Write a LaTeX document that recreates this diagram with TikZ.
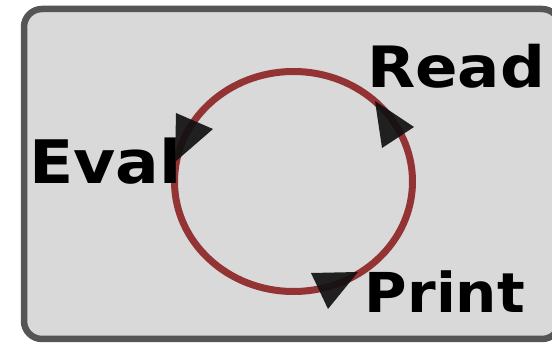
\documentclass[tikz,border=0pt]{standalone}
\usepackage{fontspec}
\setmainfont{DejaVu Sans}
\definecolor{panelfill}{HTML}{D9D9D9}
\definecolor{panelline}{HTML}{555555}
\definecolor{loopred}{HTML}{933333}
\definecolor{tipblack}{HTML}{111111}
\newcommand{\widelabel}[3]{\scalebox{#2}[1]{\fontsize{#1}{#1}\selectfont\bfseries #3}}
\begin{document}
\begin{tikzpicture}[x=1pt,y=-1pt,
  label/.style={anchor=base west,inner sep=0pt,text=black},
  tip/.style={fill=tipblack,fill opacity=0.92,draw=none}]
\clip (0,0) rectangle (552,344);
\useasboundingbox (0,0) rectangle (552,344);
% panel
\draw[panelline,line width=6.5pt,fill=panelfill,rounded corners=18pt] (24,9) rectangle (560,339);
% loop
\draw[loopred,line width=7pt] (293.5,181.5) ellipse [x radius=119, y radius=110];
% labels
\node[label] (eval) at (29,184) {\widelabel{60}{1.08}{Eval}};
\node[label] (read) at (367,87.5) {\widelabel{57}{1.1}{Read}};
\node[label] (print) at (364.7,313) {\widelabel{55}{1.055}{Print}};
% arrow tips on the loop
\fill[tip] (176,113) -- (213,129) -- (175,162) -- cycle;
\fill[tip] (375,101) -- (414,127) -- (382,148) -- cycle;
\fill[tip] (311,273) -- (358,272) -- (328,309) -- cycle;
\end{tikzpicture}
\end{document}
